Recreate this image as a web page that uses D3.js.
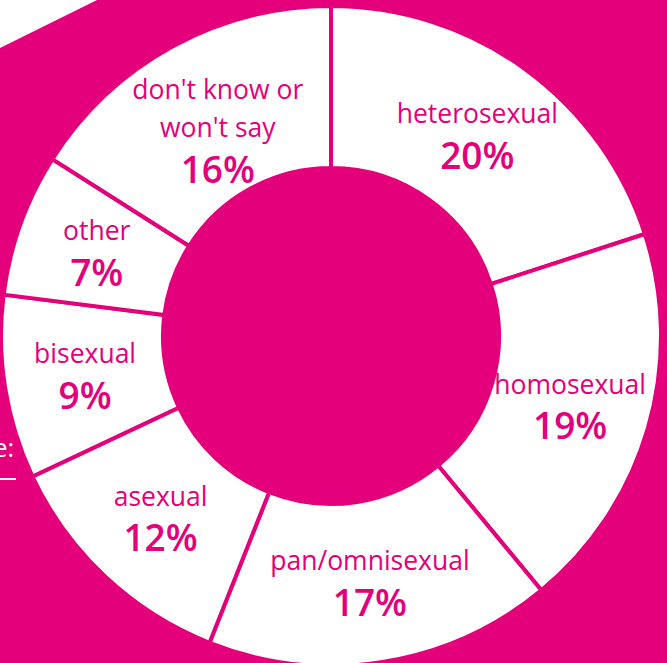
<!DOCTYPE html>
<html lang="en">
<head>
<meta charset="UTF-8">
<title>Donut</title>
<script src="https://d3js.org/d3.v7.min.js"></script>
<style>
  body { margin: 0; background: #fff; }
  svg { display: block; }
  .lbl { font-family: "Open Sans", sans-serif; fill: #e3007a; }
</style>
</head>
<body>
<div id="chart"></div>
<script>
// data
const categories = ["heterosexual", "homosexual", "pan/omnisexual", "asexual", "bisexual", "other", "don't know or won't say"];
const labelLines = [["heterosexual"], ["homosexual"], ["pan/omnisexual"], ["asexual"], ["bisexual"], ["other"], ["don't know or", "won't say"]];
const values = [20, 19, 17, 12, 9, 7, 16];

const width = 667, height = 663;
const magenta = "#e3007a";
const cx = 331, cy = 336;
const innerRadius = 168, outerRadius = 330, labelRadius = 249;

const svg = d3.select("#chart").append("svg")
    .attr("width", width)
    .attr("height", height);

// magenta card, the top-left corner stays white
svg.append("polygon")
    .attr("points", `97,0 ${width},0 ${width},${height} 0,${height} 0,48`)
    .attr("fill", magenta);

// cut-off note on the left edge
svg.append("text")
    .attr("x", 14).attr("y", 457)
    .attr("text-anchor", "end")
    .style("font-family", "'Open Sans', sans-serif")
    .style("font-size", "25px")
    .attr("fill", "#fff")
    .text("Source:");
svg.append("line")
    .attr("x1", 0).attr("x2", 16)
    .attr("y1", 479).attr("y2", 479)
    .attr("stroke", "#fff").attr("stroke-width", 2);

const g = svg.append("g").attr("transform", `translate(${cx},${cy})`);

const pie = d3.pie().sort(null).value(d => d)(values);
const arc = d3.arc().innerRadius(innerRadius).outerRadius(outerRadius);

g.selectAll("path.slice")
    .data(pie)
    .join("path")
    .attr("class", "slice")
    .attr("d", arc)
    .attr("fill", "#fff")
    .attr("stroke", magenta)
    .attr("stroke-width", 4)
    .attr("stroke-linejoin", "miter");

// top divider runs up to the edge
g.append("line")
    .attr("x1", 0).attr("x2", 0)
    .attr("y1", -innerRadius).attr("y2", -cy)
    .attr("stroke", magenta).attr("stroke-width", 4);

// labels
const lineH = 38, pctGap = 42;
const labels = g.selectAll("g.label")
    .data(pie)
    .join("g")
    .attr("class", "label")
    .attr("transform", (d, i) => {
        const a = (d.startAngle + d.endAngle) / 2;
        // longer labels sit a bit further in
        const r = labelRadius - (labelLines[i].length - 1) * 14;
        return `translate(${r * Math.sin(a)},${-r * Math.cos(a)})`;
    });

labels.each(function(d, i) {
    const lines = labelLines[i];
    const total = (lines.length - 1) * lineH + pctGap;
    const top = -total / 2;
    const sel = d3.select(this);
    lines.forEach((t, j) => {
        sel.append("text")
            .attr("class", "lbl")
            .attr("text-anchor", "middle")
            .attr("dy", "0.35em")
            .attr("y", top + j * lineH)
            .style("font-size", "26.5px")
            .text(t);
    });
    sel.append("text")
        .attr("class", "lbl")
        .attr("text-anchor", "middle")
        .attr("dy", "0.35em")
        .attr("y", top + (lines.length - 1) * lineH + pctGap)
        .style("font-size", "37px")
        .style("font-weight", 600)
        .text(values[i] + "%");
});
</script>
</body>
</html>
